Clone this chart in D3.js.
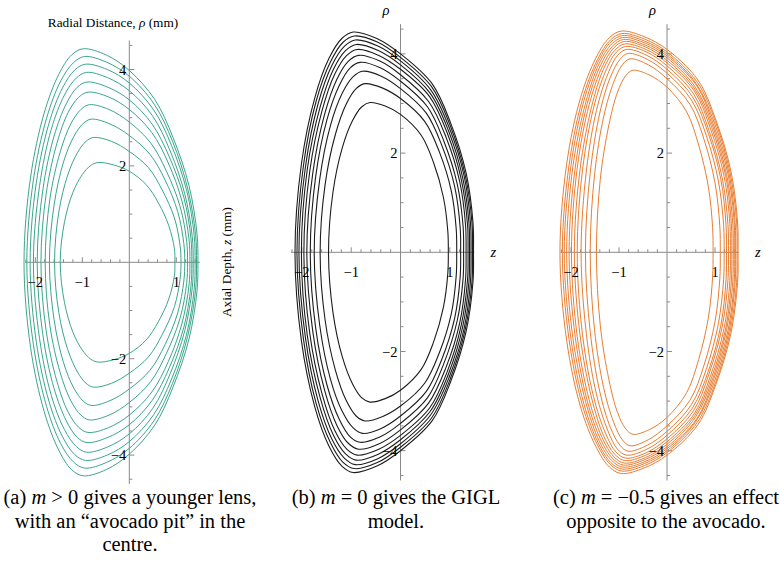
<!DOCTYPE html>
<html>
<head>
<meta charset="utf-8">
<script src="https://cdn.jsdelivr.net/npm/d3@7"></script>
<style>
  body { margin: 0; background: #fff; }
  svg text { font-family: "Liberation Serif", "Times New Roman", serif; fill: #000; }
</style>
</head>
<body>
<div id="chart"></div>
<script>
// upper half of each contour, [z, rho], outermost first (lower half is the mirror)
var curvesA = [
  [[-2.24,0],[-2.10,1.77],[-1.81,3.10],[-1.50,3.90],[-1.23,4.30],[-0.98,4.43],[-0.49,4.30],[0,3.98],[0.54,3.38],[0.93,2.59],[1.27,1.59],[1.44,0.60],[1.46,0]],
  [[-2.18,0],[-2.04,1.71],[-1.76,2.99],[-1.46,3.76],[-1.19,4.14],[-0.95,4.27],[-0.48,4.15],[0,3.86],[0.53,3.28],[0.92,2.51],[1.24,1.54],[1.41,0.58],[1.43,0]],
  [[-2.11,0],[-1.98,1.64],[-1.71,2.88],[-1.42,3.62],[-1.16,3.99],[-0.93,4.11],[-0.47,4.00],[0,3.72],[0.52,3.16],[0.90,2.42],[1.22,1.49],[1.38,0.56],[1.40,0]],
  [[-2.04,0],[-1.91,1.58],[-1.66,2.76],[-1.38,3.47],[-1.13,3.82],[-0.91,3.94],[-0.46,3.83],[0,3.56],[0.50,3.03],[0.87,2.31],[1.18,1.42],[1.34,0.53],[1.36,0]],
  [[-1.96,0],[-1.84,1.50],[-1.60,2.62],[-1.34,3.29],[-1.11,3.63],[-0.90,3.74],[-0.45,3.63],[0,3.37],[0.49,2.86],[0.85,2.19],[1.16,1.35],[1.31,0.51],[1.33,0]],
  [[-1.88,0],[-1.77,1.41],[-1.54,2.47],[-1.30,3.11],[-1.08,3.42],[-0.88,3.53],[-0.44,3.43],[0,3.17],[0.48,2.69],[0.83,2.06],[1.12,1.27],[1.27,0.48],[1.29,0]],
  [[-1.79,0],[-1.69,1.31],[-1.47,2.29],[-1.24,2.88],[-1.03,3.17],[-0.85,3.27],[-0.43,3.17],[0,2.91],[0.46,2.47],[0.79,1.89],[1.08,1.16],[1.22,0.44],[1.24,0]],
  [[-1.70,0],[-1.60,1.19],[-1.40,2.08],[-1.18,2.61],[-0.98,2.88],[-0.81,2.97],[-0.41,2.87],[0,2.63],[0.44,2.24],[0.76,1.71],[1.03,1.05],[1.16,0.39],[1.18,0]],
  [[-1.59,0],[-1.50,1.04],[-1.31,1.81],[-1.10,2.28],[-0.92,2.51],[-0.76,2.59],[-0.38,2.51],[0,2.30],[0.41,1.96],[0.70,1.50],[0.96,0.92],[1.08,0.35],[1.10,0]],
  [[-1.47,0],[-1.38,0.83],[-1.20,1.45],[-1.00,1.82],[-0.82,2.01],[-0.66,2.07],[-0.33,2.02],[0,1.89],[0.36,1.61],[0.62,1.23],[0.84,0.76],[0.96,0.28],[0.97,0]]
];

var curvesB = [
  [[-2.14,0],[-2.01,1.78],[-1.74,3.11],[-1.45,3.91],[-1.19,4.31],[-0.96,4.44],[-0.48,4.31],[0,4.00],[0.64,3.40],[1.02,2.60],[1.33,1.60],[1.47,0.60],[1.48,0]],
  [[-2.10,0],[-1.97,1.74],[-1.71,3.05],[-1.42,3.84],[-1.17,4.23],[-0.94,4.36],[-0.47,4.24],[0,3.93],[0.63,3.34],[1.01,2.55],[1.31,1.57],[1.45,0.59],[1.46,0]],
  [[-2.06,0],[-1.93,1.71],[-1.67,3.00],[-1.39,3.77],[-1.14,4.15],[-0.92,4.28],[-0.46,4.16],[0,3.86],[0.61,3.28],[0.99,2.51],[1.29,1.54],[1.42,0.58],[1.43,0]],
  [[-2.01,0],[-1.89,1.68],[-1.63,2.93],[-1.36,3.69],[-1.12,4.06],[-0.90,4.19],[-0.45,4.07],[0,3.78],[0.60,3.21],[0.97,2.46],[1.26,1.51],[1.39,0.57],[1.40,0]],
  [[-1.96,0],[-1.84,1.64],[-1.59,2.86],[-1.33,3.60],[-1.09,3.97],[-0.88,4.09],[-0.44,3.97],[0,3.69],[0.59,3.14],[0.95,2.40],[1.23,1.48],[1.36,0.55],[1.37,0]],
  [[-1.90,0],[-1.78,1.59],[-1.54,2.78],[-1.29,3.49],[-1.06,3.85],[-0.85,3.97],[-0.43,3.86],[0,3.58],[0.57,3.04],[0.92,2.33],[1.20,1.43],[1.32,0.54],[1.33,0]],
  [[-1.83,0],[-1.72,1.53],[-1.49,2.68],[-1.24,3.37],[-1.02,3.72],[-0.82,3.83],[-0.41,3.72],[0,3.45],[0.55,2.93],[0.88,2.24],[1.15,1.38],[1.27,0.52],[1.28,0]],
  [[-1.75,0],[-1.64,1.46],[-1.42,2.56],[-1.18,3.21],[-0.96,3.54],[-0.77,3.65],[-0.39,3.55],[0,3.30],[0.52,2.81],[0.84,2.15],[1.10,1.32],[1.21,0.50],[1.22,0]],
  [[-1.63,0],[-1.53,1.36],[-1.32,2.38],[-1.10,2.99],[-0.90,3.30],[-0.72,3.40],[-0.36,3.31],[0,3.10],[0.49,2.64],[0.79,2.02],[1.03,1.24],[1.13,0.47],[1.14,0]],
  [[-1.46,0],[-1.37,1.21],[-1.18,2.11],[-0.97,2.66],[-0.79,2.93],[-0.62,3.02],[-0.31,2.95],[0,2.78],[0.42,2.36],[0.67,1.81],[0.87,1.11],[0.96,0.42],[0.97,0]]
];

var curvesC = [
  [[-2.23,0],[-2.09,1.78],[-1.80,3.12],[-1.48,3.92],[-1.20,4.33],[-0.95,4.46],[-0.48,4.35],[0,4.09],[0.64,3.48],[1.02,2.66],[1.33,1.64],[1.47,0.61],[1.48,0]],
  [[-2.18,0],[-2.04,1.76],[-1.76,3.09],[-1.45,3.88],[-1.18,4.28],[-0.94,4.41],[-0.47,4.30],[0,4.04],[0.63,3.43],[1.01,2.63],[1.31,1.62],[1.45,0.61],[1.46,0]],
  [[-2.14,0],[-2.00,1.75],[-1.73,3.06],[-1.43,3.85],[-1.17,4.24],[-0.93,4.37],[-0.47,4.26],[0,4.00],[0.61,3.40],[0.99,2.60],[1.29,1.60],[1.42,0.60],[1.43,0]],
  [[-2.09,0],[-1.96,1.73],[-1.69,3.03],[-1.41,3.81],[-1.15,4.20],[-0.92,4.33],[-0.46,4.22],[0,3.96],[0.61,3.37],[0.97,2.57],[1.27,1.58],[1.40,0.59],[1.41,0]],
  [[-2.04,0],[-1.91,1.72],[-1.66,3.00],[-1.38,3.78],[-1.13,4.16],[-0.91,4.29],[-0.46,4.18],[0,3.92],[0.59,3.33],[0.95,2.55],[1.24,1.57],[1.37,0.59],[1.38,0]],
  [[-1.99,0],[-1.87,1.70],[-1.62,2.98],[-1.35,3.74],[-1.11,4.12],[-0.89,4.25],[-0.45,4.14],[0,3.87],[0.58,3.29],[0.93,2.52],[1.22,1.55],[1.34,0.58],[1.35,0]],
  [[-1.93,0],[-1.81,1.68],[-1.57,2.94],[-1.32,3.70],[-1.09,4.07],[-0.88,4.20],[-0.44,4.09],[0,3.82],[0.57,3.25],[0.91,2.48],[1.19,1.53],[1.31,0.57],[1.32,0]],
  [[-1.87,0],[-1.76,1.66],[-1.53,2.91],[-1.28,3.65],[-1.06,4.03],[-0.86,4.15],[-0.43,4.04],[0,3.76],[0.55,3.20],[0.88,2.44],[1.15,1.50],[1.27,0.56],[1.28,0]],
  [[-1.79,0],[-1.68,1.64],[-1.47,2.86],[-1.23,3.60],[-1.03,3.97],[-0.84,4.09],[-0.42,3.97],[0,3.69],[0.53,3.14],[0.86,2.40],[1.12,1.48],[1.23,0.55],[1.24,0]],
  [[-1.70,0],[-1.60,1.60],[-1.40,2.81],[-1.18,3.53],[-0.98,3.89],[-0.81,4.01],[-0.41,3.89],[0,3.61],[0.51,3.07],[0.82,2.35],[1.07,1.44],[1.18,0.54],[1.19,0]],
  [[-1.60,0],[-1.51,1.56],[-1.32,2.73],[-1.11,3.43],[-0.93,3.78],[-0.77,3.90],[-0.39,3.78],[0,3.50],[0.48,2.98],[0.77,2.28],[1.00,1.40],[1.10,0.53],[1.11,0]],
  [[-1.47,0],[-1.39,1.47],[-1.21,2.57],[-1.03,3.23],[-0.86,3.56],[-0.71,3.67],[-0.36,3.57],[0,3.33],[0.41,2.83],[0.66,2.16],[0.86,1.33],[0.95,0.50],[0.96,0]]
];

// ticks and axis extents (data units)
var zTickLabels = [-2, -1, 1];
var rhoTickLabels = [-4, -2, 2, 4];
var zExtent = [-2.22, 1.5];
var rhoExtent = [-4.6, 4.6];

var captionA = [["(a) ", "m", " > 0 gives a younger lens,"], ["with an \u201Cavocado pit\u201D in the"], ["centre."]];
var captionB = [["(b) ", "m", " = 0 gives the GIGL"], ["model."]];
var captionC = [["(c) ", "m", " = \u22120.5 gives an effect"], ["opposite to the avocado."]];

var svgWidth = 780;
var svgHeight = 568;

var svg = d3.select("#chart")
  .append("svg")
  .attr("width", svgWidth)
  .attr("height", svgHeight);

// panel layout: origin in pixels and pixels per mm
var panels = [
  {curves: curvesA, color: "#3aa68a", width: 1, x0: 129.3, ux: 47, y0: 262.3, uy: 48.2, caption: captionA, cx: 130, zLabel: false},
  {curves: curvesB, color: "#1c1c1c", width: 1.1, x0: 400.5, ux: 49.3, y0: 252.3, uy: 49.6, caption: captionB, cx: 396, zLabel: true},
  {curves: curvesC, color: "#e87d32", width: 1, x0: 667, ux: 48, y0: 252.3, uy: 49.6, caption: captionC, cx: 666, zLabel: true}
];

panels.forEach(function(p) {
  var x = d3.scaleLinear().domain([0, 1]).range([p.x0, p.x0 + p.ux]);
  var y = d3.scaleLinear().domain([0, 1]).range([p.y0, p.y0 - p.uy]);
  var g = svg.append("g");

  // axes
  var axisColor = "#8a8a8a";
  g.append("line")
    .attr("x1", x(zExtent[0])).attr("x2", x(zExtent[1]))
    .attr("y1", y(0)).attr("y2", y(0))
    .attr("stroke", axisColor).attr("stroke-width", 1);
  g.append("line")
    .attr("x1", x(0)).attr("x2", x(0))
    .attr("y1", y(rhoExtent[1])).attr("y2", y(rhoExtent[0]))
    .attr("stroke", axisColor).attr("stroke-width", 1);

  // z ticks, minor every 0.2
  var zTicks = d3.range(-22, 15, 2).map(function(d) { return d / 10; }).filter(function(d) { return d !== 0; });
  g.selectAll(".zt").data(zTicks).enter().append("line")
    .attr("x1", function(d) { return x(d); }).attr("x2", function(d) { return x(d); })
    .attr("y1", y(0))
    .attr("y2", function(d) { return Number.isInteger(d) ? y(0) - 5 : y(0) - 3; })
    .attr("stroke", axisColor).attr("stroke-width", 1);

  // rho ticks, minor every 0.5
  var rTicks = d3.range(-9, 10).map(function(d) { return d / 2; }).filter(function(d) { return d !== 0; });
  g.selectAll(".rt").data(rTicks).enter().append("line")
    .attr("y1", function(d) { return y(d); }).attr("y2", function(d) { return y(d); })
    .attr("x1", x(0))
    .attr("x2", function(d) { return d % 2 === 0 ? x(0) + 5 : x(0) + 3; })
    .attr("stroke", axisColor).attr("stroke-width", 1);

  // contours
  var line = d3.line()
    .x(function(d) { return x(d[0]); })
    .y(function(d) { return y(d[1]); })
    .curve(d3.curveCatmullRomClosed.alpha(0.5));

  p.curves.forEach(function(c) {
    var lower = c.slice(1, c.length - 1).reverse().map(function(d) { return [d[0], -d[1]]; });
    g.append("path")
      .attr("d", line(c.concat(lower)))
      .attr("fill", "none")
      .attr("stroke", p.color)
      .attr("stroke-width", p.width);
  });

  // tick labels
  g.selectAll(".zl").data(zTickLabels).enter().append("text")
    .attr("x", function(d) { return x(d); })
    .attr("y", y(0) + 25)
    .attr("text-anchor", "middle")
    .attr("font-size", 14.5)
    .text(function(d) { return d < 0 ? "\u2212" + Math.abs(d) : d; });

  g.selectAll(".rl").data(rhoTickLabels).enter().append("text")
    .attr("x", x(0) - 3)
    .attr("y", function(d) { return y(d) + 5; })
    .attr("text-anchor", "end")
    .attr("font-size", 14.5)
    .text(function(d) { return d < 0 ? "\u2212" + Math.abs(d) : d; });

  if (p.zLabel) {
    g.append("text")
      .attr("x", x(zExtent[1]) + 16)
      .attr("y", y(0) + 5)
      .attr("font-size", 14.5)
      .attr("font-style", "italic")
      .text("z");
    g.append("text")
      .attr("x", x(0) - 18)
      .attr("y", 15)
      .attr("font-size", 14.5)
      .attr("font-style", "italic")
      .text("\u03C1");
  }

  // caption
  p.caption.forEach(function(parts, i) {
    var t = svg.append("text")
      .attr("x", p.cx)
      .attr("y", 504 + i * 23.5)
      .attr("text-anchor", "middle")
      .attr("font-size", 20.5);
    parts.forEach(function(s, j) {
      t.append("tspan")
        .attr("font-style", parts.length > 1 && j === 1 ? "italic" : "normal")
        .text(s);
    });
  });
});

// axis titles of panel (a)
svg.append("text")
  .attr("x", 113)
  .attr("y", 27)
  .attr("text-anchor", "middle")
  .attr("font-size", 13.3)
  .html("Radial Distance, <tspan font-style='italic'>\u03C1</tspan> (mm)");

svg.append("text")
  .attr("transform", "translate(231, 262) rotate(-90)")
  .attr("text-anchor", "middle")
  .attr("font-size", 13.3)
  .html("Axial Depth, <tspan font-style='italic'>z</tspan> (mm)");
</script>
</body>
</html>
